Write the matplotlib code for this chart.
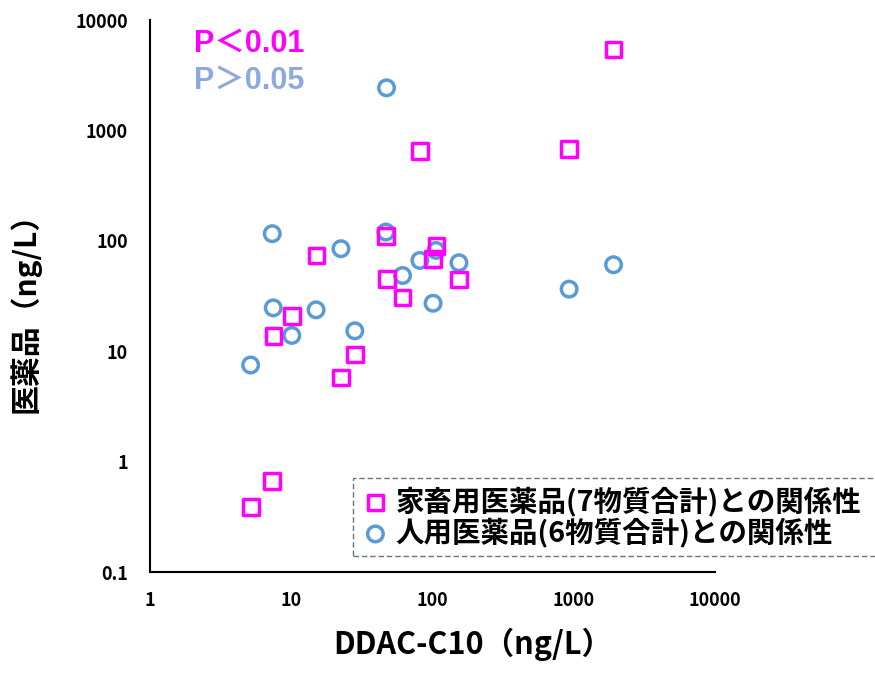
import matplotlib
matplotlib.use("Agg")
import matplotlib.pyplot as plt

plt.rcParams['font.family'] = ['Noto Sans CJK JP', 'DejaVu Sans']
plt.rcParams['font.weight'] = 'bold'

# 家畜用医薬品 (squares)
vet_x = [5.2, 7.3, 7.5, 10.1, 15.1, 22.6, 28.2, 46.8, 47.6, 61.4, 81.5, 101, 107, 154, 928, 1914]
vet_y = [0.39, 0.67, 13.8, 20.9, 73.7, 5.8, 9.3, 110, 45.3, 30.8, 651, 68.8, 89.5, 44.6, 675, 5420]
# 人用医薬品 (circles)
hum_x = [5.16, 7.34, 7.46, 10.1, 15.0, 22.5, 28.2, 46.8, 47.3, 61.4, 81.5, 101, 106, 154, 928, 1914]
hum_y = [7.5, 116, 24.7, 13.9, 23.7, 84.8, 15.3, 120, 2430, 48.5, 66.4, 27.2, 81.8, 63.3, 36.5, 60.7]

vet_label = "家畜用医薬品(7物質合計)との関係性"
hum_label = "人用医薬品(6物質合計)との関係性"
x_ticks = [1, 10, 100, 1000, 10000]
y_ticks = [0.1, 1, 10, 100, 1000, 10000]

fig = plt.figure(figsize=(8.75, 6.78), dpi=100)
ax = fig.add_axes([0.1714, 0.1563, 0.6457, 0.8142])

ax.scatter(hum_x, hum_y, s=125, marker='o', facecolors='none',
           edgecolors='#5B9BD5', linewidths=2.5, label=hum_label, zorder=3)
ax.scatter(vet_x, vet_y, s=125, marker='s', facecolors='none',
           edgecolors='#FF00FF', linewidths=2.5, label=vet_label, zorder=4)

ax.set_xscale('log')
ax.set_yscale('log')
ax.set_xlim(1, 10000)
ax.set_ylim(0.1, 10000)
ax.set_xticks(x_ticks)
ax.set_xticklabels([str(v) for v in x_ticks])
ax.set_yticks(y_ticks)
ax.set_yticklabels([str(v) for v in y_ticks])
ax.minorticks_off()
ax.tick_params(axis='both', length=0, labelsize=13)
ax.tick_params(axis='y', pad=16)
ax.tick_params(axis='x', pad=14)
for lab in ax.get_xticklabels() + ax.get_yticklabels():
    lab.set_fontweight('bold')

for s in ['top', 'right']:
    ax.spines[s].set_visible(False)
for s in ['left', 'bottom']:
    ax.spines[s].set_linewidth(1.5)
    ax.spines[s].set_color('black')

fig.text(0.54, 0.025, 'DDAC-C10（ng/L）', fontsize=22, fontweight='bold',
         ha='center', va='bottom')
fig.text(0.010, 0.549, '医薬品（ng/L）', fontsize=21.5, fontweight='bold',
         ha='left', va='center', rotation=90)

pfont = ['Liberation Sans', 'Noto Sans CJK JP']
fig.text(0.222, 0.936, 'P＜0.01', color='#FF00FF', fontsize=22,
         fontweight='bold', ha='left', va='center', family=pfont)
fig.text(0.222, 0.881, 'P＞0.05', color='#8EA9DB', fontsize=22,
         fontweight='bold', ha='left', va='center', family=pfont)

handles, labels = ax.get_legend_handles_labels()
leg = ax.legend(handles[::-1], labels[::-1], loc='lower left',
                bbox_to_anchor=(0.403, 0.18, 0.6, 0.137),
                bbox_transform=fig.transFigure, mode='expand',
                prop={'size': 20.5, 'weight': 'bold'}, fancybox=False,
                handletextpad=0.2, handlelength=1.0, borderpad=0.3,
                labelspacing=0.05, borderaxespad=0)
frame = leg.get_frame()
frame.set_edgecolor('#44546A')
frame.set_linestyle((0, (4, 2)))
frame.set_linewidth(1.0)

fig.savefig('out.png', dpi=100)
